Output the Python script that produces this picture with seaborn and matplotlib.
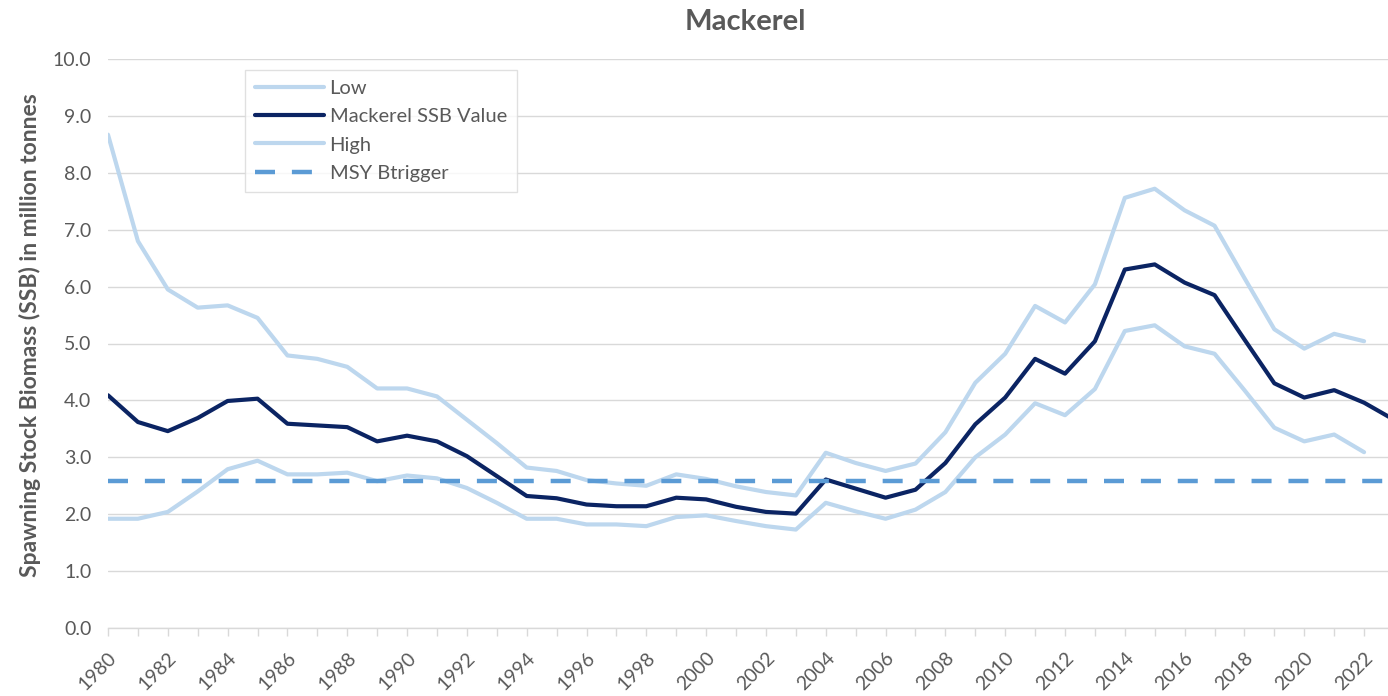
import numpy as np
import pandas as pd
import matplotlib
matplotlib.use("Agg")
import matplotlib.pyplot as plt
import seaborn as sns

years = list(range(1980, 2024))

ssb = [4.09, 3.62, 3.46, 3.69, 3.99, 4.03, 3.59, 3.56, 3.53, 3.28,
       3.38, 3.28, 3.02, 2.67, 2.32, 2.28, 2.17, 2.14, 2.14, 2.29,
       2.26, 2.13, 2.04, 2.01, 2.61, 2.45, 2.29, 2.43, 2.90, 3.58,
       4.05, 4.73, 4.47, 5.04, 6.30, 6.39, 6.07, 5.85, 5.07, 4.30,
       4.05, 4.18, 3.96, 3.66]

high = [8.67, 6.80, 5.95, 5.63, 5.67, 5.45, 4.79, 4.73, 4.59, 4.21,
        4.21, 4.07, 3.66, 3.25, 2.82, 2.76, 2.60, 2.54, 2.50, 2.70,
        2.62, 2.49, 2.39, 2.33, 3.08, 2.90, 2.76, 2.89, 3.44, 4.31,
        4.82, 5.66, 5.37, 6.04, 7.56, 7.72, 7.34, 7.07, 6.15, 5.25,
        4.91, 5.17, 5.04]

low = [1.92, 1.92, 2.04, 2.40, 2.79, 2.94, 2.70, 2.70, 2.73, 2.58,
       2.68, 2.63, 2.46, 2.20, 1.92, 1.92, 1.82, 1.82, 1.79, 1.95,
       1.98, 1.88, 1.79, 1.73, 2.20, 2.05, 1.92, 2.08, 2.39, 3.00,
       3.40, 3.95, 3.74, 4.20, 5.22, 5.32, 4.95, 4.82, 4.18, 3.52,
       3.28, 3.40, 3.09]

msy_btrigger = 2.58
msy_years = [1980, 2024]
tick_years = list(range(1980, 2023, 2))
y_ticks = [0, 1, 2, 3, 4, 5, 6, 7, 8, 9, 10]

title = "Mackerel"
ylabel = "Spawning Stock Biomass (SSB) in million tonnes"

sns.set_theme(style="white")
plt.rcParams['font.family'] = ['Lato', 'DejaVu Sans']

light = "#bdd7ee"
dark = "#0b2463"
dash_c = "#5b9bd5"
gray_txt = "#595959"

fig = plt.figure(figsize=(13.88, 6.96), dpi=100)
ax = fig.add_axes([108/1388, 68/696, 1280/1388, 569/696])

df_low = pd.DataFrame({"year": years[:len(low)], "v": low})
df_ssb = pd.DataFrame({"year": years[:len(ssb)], "v": ssb})
df_high = pd.DataFrame({"year": years[:len(high)], "v": high})
df_msy = pd.DataFrame({"year": msy_years, "v": [msy_btrigger] * len(msy_years)})

sns.lineplot(data=df_low, x="year", y="v", ax=ax, color=light, lw=3.0, label="Low", zorder=3)
sns.lineplot(data=df_ssb, x="year", y="v", ax=ax, color=dark, lw=3.0, label="Mackerel SSB Value", zorder=4)
sns.lineplot(data=df_high, x="year", y="v", ax=ax, color=light, lw=3.0, label="High", zorder=3)
sns.lineplot(data=df_msy, x="year", y="v", ax=ax, color=dash_c, lw=3.2, label="MSY Btrigger",
             zorder=5, dashes=False)
ax.lines[-1].set_dashes([4.5, 3.8])

ax.set_xlim(1980, 2022.8)
ax.set_ylim(0, 10)
ax.set_yticks(y_ticks)
ax.set_yticklabels([f"{t:.1f}" for t in y_ticks])
ax.set_xticks(tick_years)
ax.set_xticklabels([str(y) for y in tick_years], rotation=45, ha="right", rotation_mode="anchor")
ax.set_xticks(years[:-1], minor=True)

ax.grid(axis="y", color="#d9d9d9", lw=1.0)
ax.grid(axis="x", visible=False)
ax.set_axisbelow(True)
for s in ["top", "right", "left"]:
    ax.spines[s].set_visible(False)
ax.spines["bottom"].set_color("#d9d9d9")
ax.spines["bottom"].set_linewidth(1.0)

ax.tick_params(axis="x", which="both", direction="out", length=6, width=1, color="#d9d9d9",
               labelsize=14, labelcolor=gray_txt, bottom=True, pad=9)
ax.tick_params(axis="y", length=0, labelsize=14, labelcolor=gray_txt, pad=12)

ax.set_xlabel("")
ax.set_ylabel(ylabel, fontsize=16.5, fontweight="bold", color=gray_txt)
ax.yaxis.set_label_coords(-0.052, 0.515)
fig.suptitle(title, x=745/1388, y=1 - 22/696, va="center", fontsize=21, fontweight="bold", color=gray_txt)

leg = ax.legend(loc="upper left", bbox_to_anchor=(137/1280, 1 - 11/569), frameon=True,
                fancybox=False, edgecolor="#d9d9d9", fontsize=14.5, handlelength=3.4,
                labelspacing=0.55, borderpad=0.5, handletextpad=0.3, borderaxespad=0)
for t in leg.get_texts():
    t.set_color(gray_txt)
leg.get_frame().set_linewidth(1.0)

fig.savefig("out.png", dpi=100)
